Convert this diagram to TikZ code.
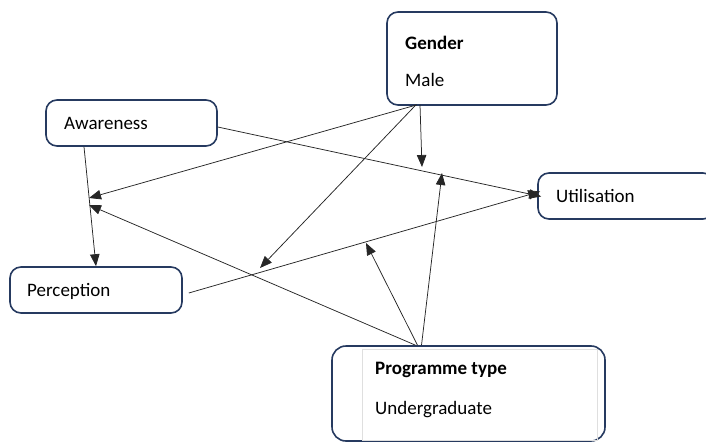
\documentclass[tikz,border=0pt]{standalone}
\usepackage{fontspec}
\setmainfont{Carlito}
\usetikzlibrary{arrows.meta,calc}
\definecolor{boxblue}{RGB}{38,58,96}
\tikzset{
  box/.style={draw=boxblue, line width=1.6pt, rounded corners=11pt, fill=white, inner sep=0pt},
  lbl/.style={anchor=west, inner sep=0pt, font=\fontsize{19}{22}\selectfont},
  conn/.style={draw=black!85, line width=0.75pt, -{Triangle[length=12pt,width=9.5pt]}},
}
\begin{document}
\begin{tikzpicture}[x=1pt,y=-1pt]
\useasboundingbox (0,0) rectangle (706,444);
% boxes
\node[box, minimum width=170pt, minimum height=93pt] (gender) at (472,58.5) {};
\node[box, minimum width=171pt, minimum height=46pt] (aware) at (131.5,123) {};
\node[box, minimum width=172pt, minimum height=46pt] (percep) at (96,290) {};
\node[box, minimum width=176pt, minimum height=46pt] (util) at (626,196) {};
\node[box, minimum width=273pt, minimum height=95pt, rounded corners=14pt] (prog) at (468.5,393.5) {};
\draw[gray!25, line width=0.6pt] (362,440) -- (362,349.5) -- (597,349.5) -- (597,440) -- cycle;
% labels
\node[lbl, font=\fontsize{19}{22}\selectfont\bfseries] (gl) at (405,43) {Gender};
\node[lbl] (gm) at (405,80) {Male};
\node[lbl] (al) at (64,123) {Awareness};
\node[lbl] (pl) at (27,291) {Perception};
\node[lbl] (ul) at (556,196) {Utilisation};
\node[lbl, font=\fontsize{19}{22}\selectfont\bfseries] (ptl) at (375,370) {Programme type};
\node[lbl] (pul) at (375,410) {Undergraduate};
% anchor points
\coordinate (aS) at ([xshift=-47.5pt]aware.south);
\coordinate (pN) at ([xshift=0pt]percep.north);
\coordinate (aE) at ([yshift=-4pt]aware.east);
\coordinate (pE) at ([xshift=6pt,yshift=-3pt]percep.east);
\coordinate (uW1) at ([xshift=4pt,yshift=-0.5pt]util.west);
\coordinate (uW2) at ([xshift=3pt,yshift=4.5pt]util.west);
\coordinate (gS1) at ([xshift=-52pt,yshift=1pt]gender.south);
\coordinate (gS2) at ([xshift=-55pt,yshift=1pt]gender.south);
\coordinate (gS3) at ([xshift=-56pt,yshift=1pt]gender.south);
\coordinate (pgN1) at ([xshift=-47pt]prog.north);
\coordinate (pgN2) at ([xshift=-51pt]prog.north);
\coordinate (pgN3) at ([xshift=-53pt]prog.north);
\coordinate (mAU1) at (422,167);
\coordinate (mAU2) at (442,173);
\coordinate (mPU1) at (260,268);
\coordinate (mPU2) at (366,243);
\coordinate (mAP1) at (89,198);
\coordinate (mAP2) at (89,205);
% main paths
\draw[conn] (aS) -- (pN);
\draw[conn] (aE) -- (uW1);
\draw[conn] (pE) -- (uW2);
% gender moderator
\draw[conn] (gS1) -- (mAU1);
\draw[conn] (gS2) -- (mAP1);
\draw[conn] (gS3) -- (mPU1);
% programme moderator
\draw[conn] (pgN1) -- (mAU2);
\draw[conn] (pgN2) -- (mPU2);
\draw[conn] (pgN3) -- (mAP2);
\end{tikzpicture}
\end{document}
